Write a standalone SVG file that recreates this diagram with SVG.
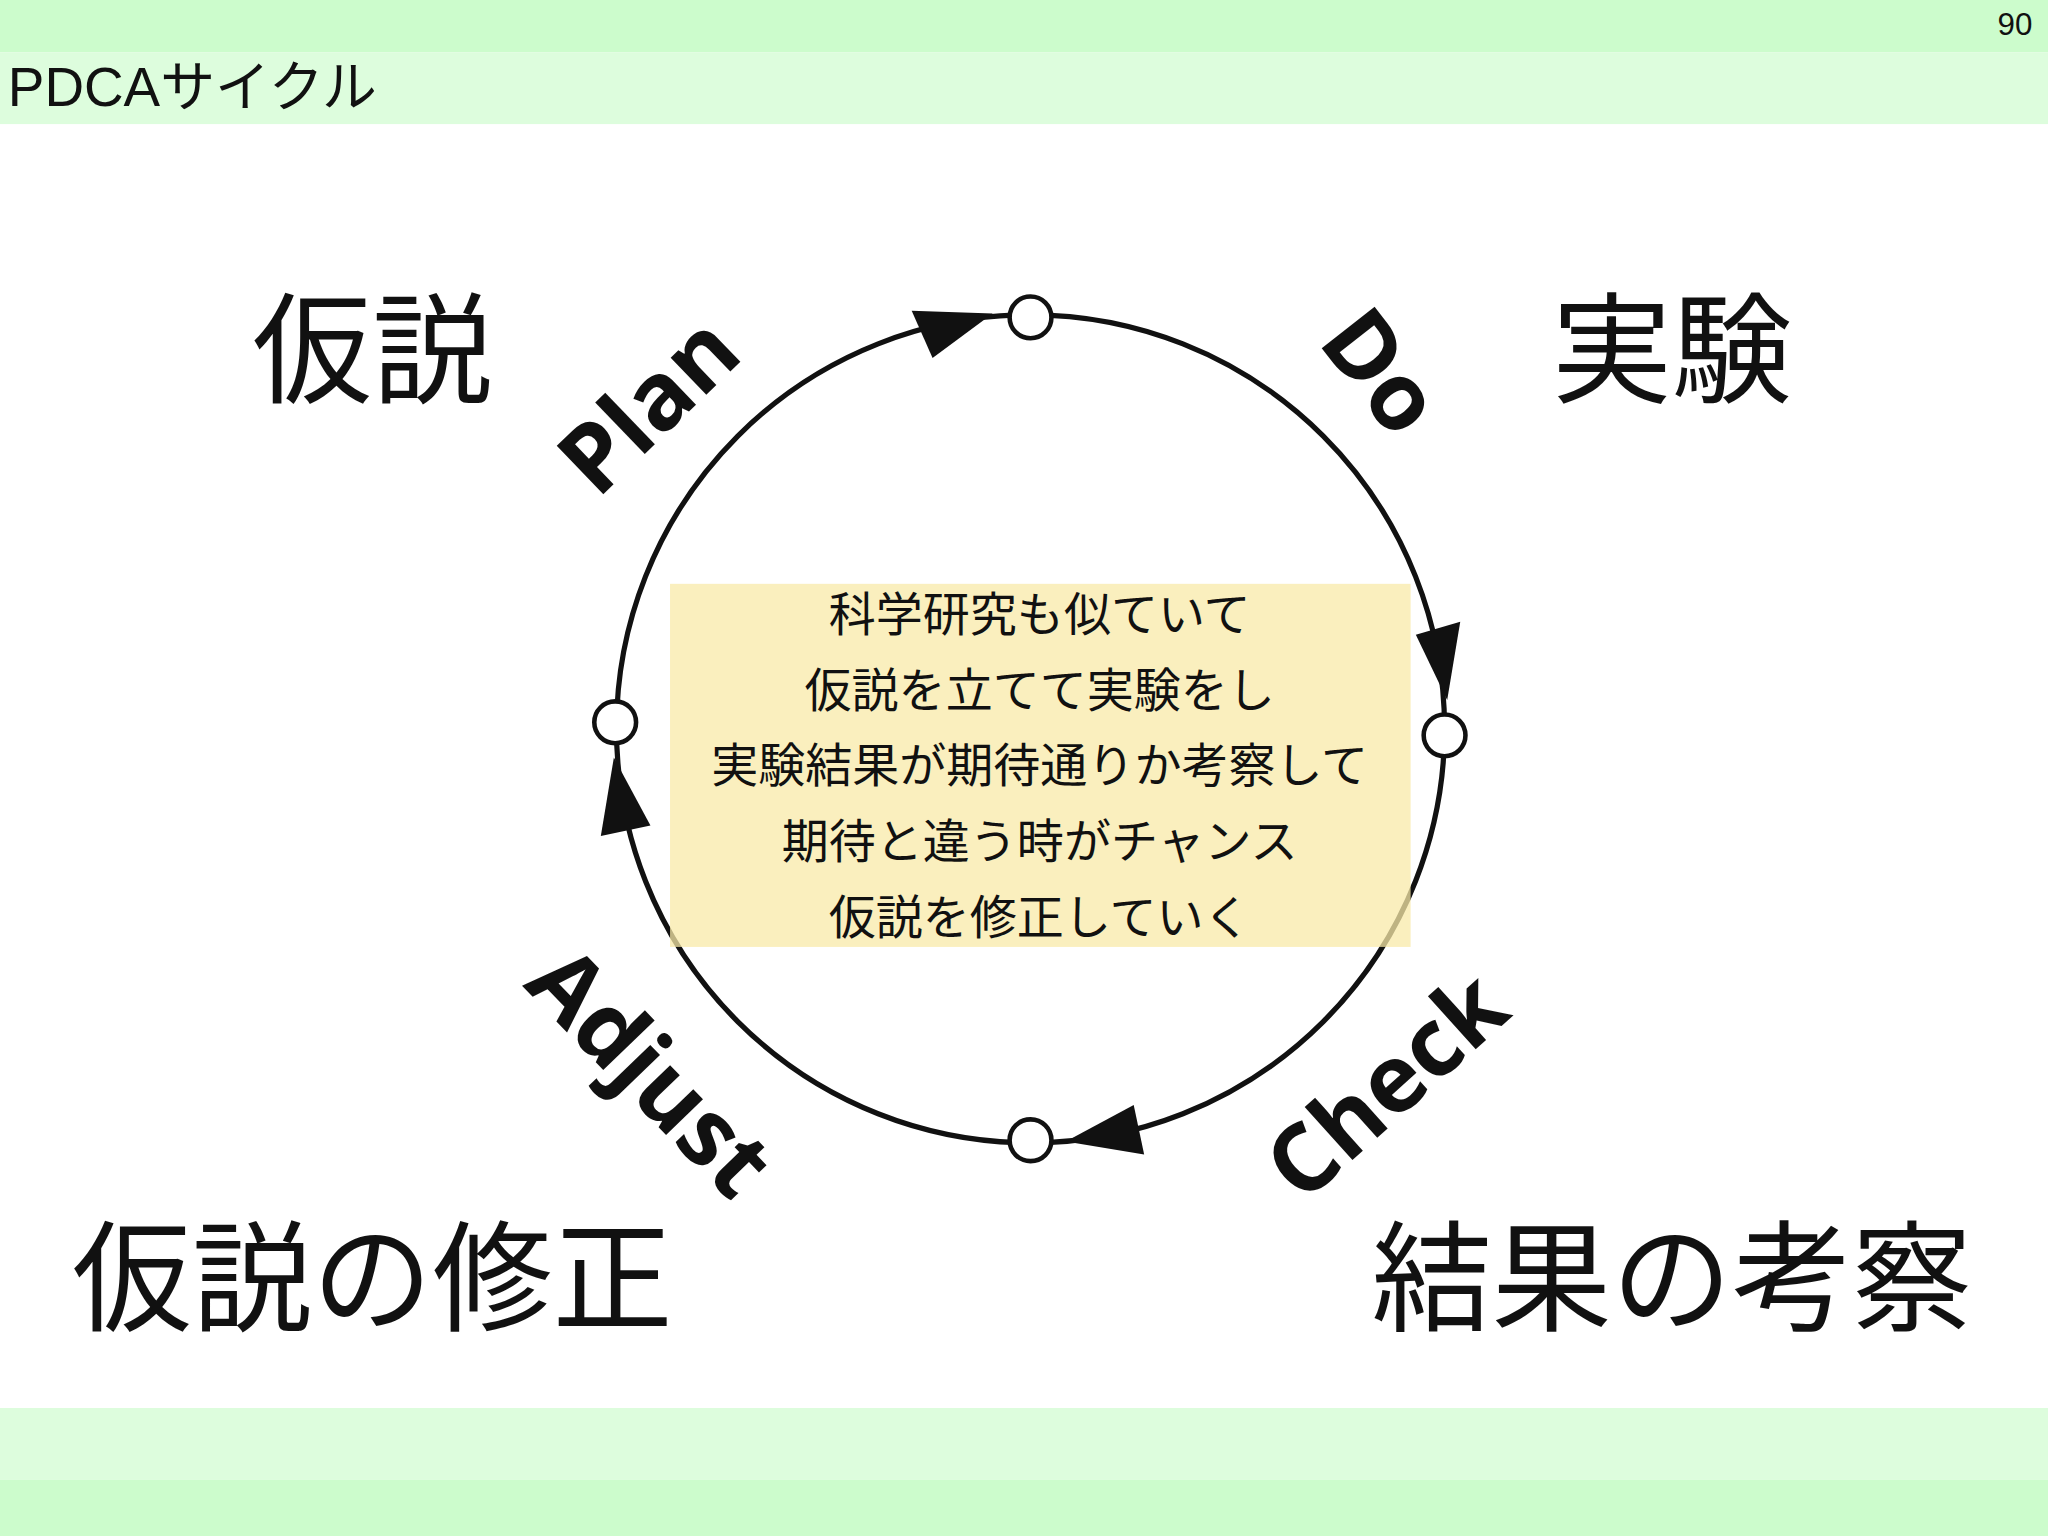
<svg xmlns="http://www.w3.org/2000/svg" width="2048" height="1536" viewBox="0 0 2048 1536">
<style>
.jp{font-family:"Liberation Sans","Noto Sans CJK JP",sans-serif;fill:#111}
.lab{font-family:"Open Sans","DejaVu Sans",sans-serif;font-weight:bold;font-size:72px;fill:#111;text-anchor:middle}
.node{fill:#fff;stroke:#111;stroke-width:3.5}
</style>
<rect width="2048" height="1536" fill="#fff"/>
<g transform="scale(1.30612)">
<rect x="0" y="0" width="1568" height="40" fill="#ccfccc"/>
<rect x="0" y="40" width="1568" height="55" fill="#ddfddd"/>
<rect x="0" y="1078" width="1568" height="55" fill="#ddfddd"/>
<rect x="0" y="1133" width="1568" height="43" fill="#ccfccc"/>
<text class="jp" x="1556" y="27" font-size="24" text-anchor="end">90</text>
<text class="jp" x="6" y="81" font-size="42">PDCAサイクル</text>
<g id="connectors">
<circle cx="789" cy="558" r="317" fill="none" stroke="#111" stroke-width="4"/>
<polygon points="760,240 698,238 714,274" fill="#111"/>
<polygon points="1108,536 1084,486 1118,476" fill="#111"/>
<polygon points="816,874 868,846 876,884" fill="#111"/>
<polygon points="470,580 460,640 498,632" fill="#111"/>
</g>
<g id="n-top"><circle class="node" cx="789" cy="243" r="16"/></g>
<g id="n-right"><circle class="node" cx="1106" cy="563" r="16"/></g>
<g id="n-bottom"><circle class="node" cx="789" cy="873" r="16"/></g>
<g id="n-left"><circle class="node" cx="471" cy="553" r="16"/></g>
<text class="lab" transform="translate(514,328) rotate(-44)">Plan</text>
<text class="lab" transform="translate(1038,300) rotate(52)">Do</text>
<text class="lab" transform="translate(1078,850) rotate(-42)">Check</text>
<text class="lab" transform="translate(480,838) rotate(46)">Adjust</text>
<g id="box">
<rect x="513" y="447" width="567" height="278" fill="#f8eaa8" fill-opacity="0.75"/>
<g class="jp" font-size="36" text-anchor="middle">
<text x="796" y="483">科学研究も似ていて</text>
<text x="796" y="541">仮説を立てて実験をし</text>
<text x="796" y="599">実験結果が期待通りか考察して</text>
<text x="796" y="657">期待と違う時がチャンス</text>
<text x="796" y="715">仮説を修正していく</text>
</g>
</g>
<g class="jp" font-size="92">
<text x="193" y="302">仮説</text>
<text x="1188" y="302">実験</text>
<text x="55" y="1012">仮説の修正</text>
<text x="1050" y="1012">結果の考察</text>
</g>
</g>
</svg>
